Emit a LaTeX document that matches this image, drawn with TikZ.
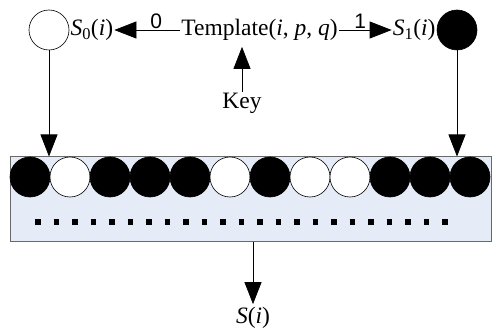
\documentclass[tikz,border=0pt]{standalone}
\usepackage{fontspec}
\setmainfont{Liberation Serif}
\newfontfamily\labelfont{Liberation Sans}
\usepackage{tikz}
\usepackage{xcolor}
\usetikzlibrary{arrows.meta,positioning,calc}
\definecolor{stripBlue}{RGB}{229,235,247}
\definecolor{stripEdge}{RGB}{105,105,105}

\tikzset{
  bit/.style={circle,draw=black,line width=0.6pt,minimum size=40pt,inner sep=0pt},
  zero/.style={bit,fill=white},
  one/.style={bit,fill=black},
  txt/.style={font=\fontsize{23.5}{26}\selectfont,inner sep=1pt},
  bitlabel/.style={font=\labelfont\fontsize{21}{23}\selectfont,above=1pt,inner sep=0pt},
  flow/.style={line width=0.7pt,-{Triangle[length=22pt,width=17pt]}}
}

\begin{document}
\begin{tikzpicture}[x=1pt,y=-1pt]
  \useasboundingbox (0,0) rectangle (492,331);

  % strip of bits
  \node[draw=stripEdge,fill=stripBlue,line width=1pt,minimum width=481pt,minimum height=84pt,inner sep=0pt] (strip) at (250.5,199) {};
  \foreach \b [count=\k from 0] in {1,0,1,1,1,0,1,0,0,1,1,1}{
    \ifnum\b=1
      \node[one] (b\k) at (30+40*\k,177) {};
    \else
      \node[zero] (b\k) at (30+40*\k,177) {};
    \fi
  }
  \draw[line width=5.5pt,dash pattern=on 5.5pt off 13pt] (35,222) -- (458,222);

  % top row
  \node[zero] (c0) at (49,30) {};
  \node[one] (c1) at (457,30) {};
  \node[txt,right=0pt of c0] (s0) {\textit{S}\textsubscript{0}(\textit{i})};
  \node[txt,left=0pt of c1] (s1) {\textit{S}\textsubscript{1}(\textit{i})};
  \node[txt] (tpl) at (259.5,30) {Template(\textit{i}, \textit{p}, \textit{q})};
  \node[txt] (key) at (242,103) {Key};
  \node[txt] (sout) at (253,318) {\textit{S}(\textit{i})};

  \draw[flow] (tpl) -- node[bitlabel,xshift=9pt] {0} (s0);
  \draw[flow] (tpl) -- node[bitlabel,xshift=-5pt] {1} (s1);
  \draw[flow,shorten >=5pt] (key.north) -- (key.north |- tpl.south);
  \draw[flow] (c0) -- (c0 |- strip.north);
  \draw[flow] (c1) -- (c1 |- strip.north);
  \draw[flow,shorten >=2pt] (strip.south -| sout) -- (sout);
\end{tikzpicture}
\end{document}
